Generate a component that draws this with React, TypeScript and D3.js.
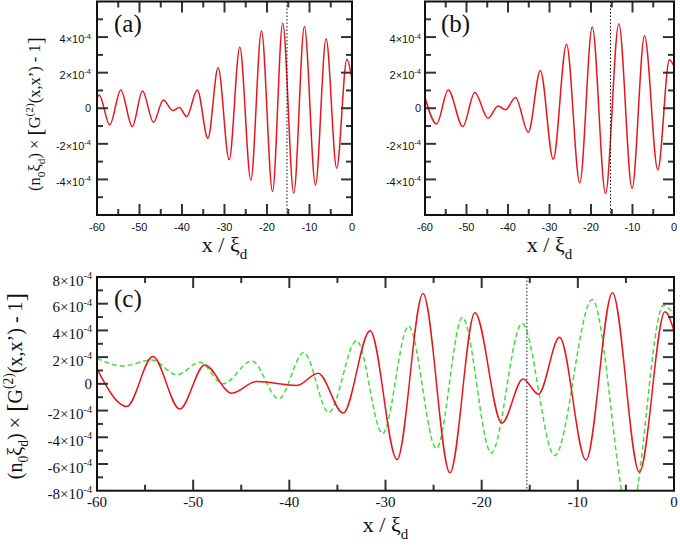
import { useEffect, useRef } from 'react'
import * as d3 from 'd3'

const aX = [-60, -59.5, -57, -54.4, -51.7, -49.3, -46.7, -44.4, -42.2, -40.6, -38.9, -36.4, -33.9, -31.5, -28.9, -26.4, -23.8, -21.3, -18.7, -16.3, -13.7, -11.2, -8.6, -6.1, -3.6, -1.2, 0]
const aY = [0.56, 0.75, -0.94, 1.03, -1.03, 0.97, -0.79, 0.47, -0.13, 0.04, -0.47, 1.03, -1.69, 2.28, -2.9, 3.43, -4.03, 4.36, -4.68, 4.78, -4.78, 4.59, -4.31, 3.9, -3.37, 2.75, 1.59]

const bX = [-60, -57.2, -54.4, -50.9, -48.0, -44.8, -42.4, -40.6, -38.2, -35.1, -32.2, -29.1, -25.9, -22.7, -19.7, -16.5, -13.3, -10.1, -7.1, -3.9, -1.1, 0]
const bY = [0.6, -0.88, 1.03, -1.03, 0.88, -0.56, 0.13, -0.09, 0.6, -1.35, 2.12, -2.87, 3.6, -4.19, 4.56, -4.79, 4.75, -4.5, 4.07, -3.47, 2.72, 2.35]

const cRedX = [-60, -56.9, -54.2, -51.4, -48.8, -46.0, -43.4, -39.2, -37.0, -34.4, -31.6, -28.8, -26.1, -23.3, -20.7, -17.9, -15.7, -14.1, -11.9, -9.15, -6.4, -3.6, -0.94, 0]
const cRedY = [1.12, -1.69, 2.04, -1.89, 1.42, -0.7, 0.17, -0.12, 0.8, -2.19, 3.98, -5.66, 6.76, -6.66, 5.32, -2.93, 0.37, -0.77, 3.48, -5.71, 6.83, -6.61, 5.39, 3.98]

const cGreenX = [-60, -57.3, -54.3, -51.7, -49.3, -46.9, -43.9, -41.1, -38.5, -35.9, -33.0, -30.3, -27.6, -24.7, -22.0, -19.0, -15.8, -12.4, -8.5, -4.6, -1.1, 0]
const cGreenY = [1.91, 1.34, 1.79, 0.67, 1.61, 0.0, 1.71, -1.12, 2.34, -2.14, 3.23, -3.73, 4.32, -4.84, 4.97, -5.17, 4.52, -5.37, 6.31, -10, 5.89, 5.14]

const xTickLabels = [-60, -50, -40, -30, -20, -10, 0]
const yTickLabelsAB = [-4, -2, 0, 2, 4]
const yTickLabelsC = [-8, -6, -4, -2, 0, 2, 4, 6, 8]
const markerX = -15.3

const SERIF = "'Liberation Serif', 'Times New Roman', Times, serif"
const SANS = "'Liberation Sans', Arial, Helvetica, sans-serif"
const RED = '#e8161c'
const GREEN = '#3fe03a'

type Seg = [string, 'n' | 'sub' | 'sup' | 'big']

// text with sub/superscripts as tspans
function rich(text: any, segs: Seg[], size: number) {
  let cur = 0
  segs.forEach(([t, k]) => {
    const fs = k === 'n' ? size : k === 'big' ? size * 1.3 : size * 0.68
    const off = k === 'sub' ? size * 0.3 : k === 'sup' ? -size * 0.45 : k === 'big' ? size * 0.1 : 0
    text.append('tspan').attr('font-size', fs).attr('dy', off - cur).text(t)
    cur = off
  })
}

interface Panel {
  id: string
  left: number
  right: number
  top: number
  bottom: number
  ymax: number
  series: { xs: number[]; ys: number[]; color: string; dash?: string }[]
  yLabels: number[]
  tickFont: string
  tickSize: number
  labelGap: number
  xLabelDrop: number
  tag: string
  tagPos: [number, number]
  titleSize: number
  titleBaseline: number
  yTitlePos: [number, number]
  yTitleSize: number
}

function drawPanel(svg: any, p: Panel) {
  const x = d3.scaleLinear().domain([-60, 0]).range([p.left, p.right])
  const y = d3.scaleLinear().domain([-p.ymax, p.ymax]).range([p.bottom, p.top])

  svg.append('clipPath').attr('id', 'clip-' + p.id)
    .append('rect')
    .attr('x', p.left).attr('y', p.top)
    .attr('width', p.right - p.left).attr('height', p.bottom - p.top)

  const line = d3.line<[number, number]>()
    .x(d => x(d[0]))
    .y(d => y(d[1]))
    .curve(d3.curveMonotoneX)

  p.series.forEach(s => {
    svg.append('path')
      .datum(s.xs.map((v, i) => [v, s.ys[i]] as [number, number]))
      .attr('clip-path', `url(#clip-${p.id})`)
      .attr('fill', 'none')
      .attr('stroke', s.color)
      .attr('stroke-width', 1.5)
      .attr('stroke-dasharray', s.dash ?? null)
      .attr('d', line)
  })

  // dotted marker
  svg.append('line')
    .attr('x1', x(markerX)).attr('x2', x(markerX))
    .attr('y1', p.top).attr('y2', p.bottom)
    .attr('stroke', '#111').attr('stroke-width', 1)
    .attr('stroke-dasharray', '1.5,2')

  // inward ticks on all four sides
  const ticks = svg.append('g').attr('stroke', '#333').attr('stroke-width', 2)
  d3.range(-55, 0, 5).forEach(v => {
    const len = v % 10 === 0 ? 11 : 6
    ticks.append('line').attr('x1', x(v)).attr('x2', x(v)).attr('y1', p.bottom).attr('y2', p.bottom - len)
    ticks.append('line').attr('x1', x(v)).attr('x2', x(v)).attr('y1', p.top).attr('y2', p.top + len)
  })
  d3.range(-p.ymax + 1, p.ymax, 1).forEach(v => {
    const len = v % 2 === 0 ? 11 : 6
    ticks.append('line').attr('y1', y(v)).attr('y2', y(v)).attr('x1', p.left).attr('x2', p.left + len)
    ticks.append('line').attr('y1', y(v)).attr('y2', y(v)).attr('x1', p.right).attr('x2', p.right - len)
  })

  svg.append('rect')
    .attr('x', p.left).attr('y', p.top)
    .attr('width', p.right - p.left).attr('height', p.bottom - p.top)
    .attr('fill', 'none').attr('stroke', '#111').attr('stroke-width', 2)

  // tick labels
  xTickLabels.forEach(v => {
    svg.append('text')
      .attr('x', x(v)).attr('y', p.bottom + p.xLabelDrop)
      .attr('text-anchor', 'middle')
      .style('font-family', p.tickFont).attr('font-size', p.tickSize)
      .attr('fill', '#111')
      .text(v)
  })
  p.yLabels.forEach(v => {
    const t = svg.append('text')
      .attr('x', p.left - p.labelGap)
      .attr('y', y(v) + p.tickSize * (v === 0 ? 0.36 : 0.58))
      .attr('text-anchor', 'end')
      .style('font-family', p.tickFont)
      .attr('fill', '#111')
    if (v === 0) rich(t, [['0', 'n']], p.tickSize)
    else rich(t, [[`${v}×10`, 'n'], ['-4', 'sup']], p.tickSize)
  })

  // panel tag
  svg.append('text')
    .attr('x', p.tagPos[0]).attr('y', p.tagPos[1])
    .style('font-family', SERIF).attr('font-size', 25).attr('fill', '#111')
    .text(p.tag)

  // x title
  const xt = svg.append('text')
    .attr('x', (p.left + p.right) / 2).attr('y', p.titleBaseline)
    .attr('text-anchor', 'middle')
    .style('font-family', SERIF).attr('fill', '#111')
  rich(xt, [['x / ξ', 'n'], ['d', 'sub']], p.titleSize)

  // y title
  if (p.yTitleSize > 0) {
    const yt = svg.append('text')
      .attr('transform', `translate(${p.yTitlePos[0]},${p.yTitlePos[1]}) rotate(-90)`)
      .attr('text-anchor', 'middle')
      .style('font-family', SERIF).attr('fill', '#111')
    rich(yt, [
      ['(n', 'n'], ['0', 'sub'], ['ξ', 'n'], ['d', 'sub'], [') × ', 'n'],
      ['[', 'big'], ['G', 'n'], ['(2)', 'sup'], ['(x,x’) - 1', 'n'], [']', 'big'],
    ], p.yTitleSize)
  }
}

export default function CorrelationFigure() {
  const svgRef = useRef<SVGSVGElement>(null)

  useEffect(() => {
    if (!svgRef.current) return
    const svg = d3.select(svgRef.current)
    svg.selectAll('*').remove()

    drawPanel(svg, {
      id: 'a', left: 97, right: 352, top: 1.5, bottom: 215, ymax: 6,
      series: [{ xs: aX, ys: aY, color: RED }],
      yLabels: yTickLabelsAB, tickFont: SANS, tickSize: 11, labelGap: 6, xLabelDrop: 16,
      tag: '(a)', tagPos: [114, 32], titleSize: 22, titleBaseline: 252,
      yTitlePos: [40, 114], yTitleSize: 16.5,
    })
    drawPanel(svg, {
      id: 'b', left: 425, right: 674, top: 1.5, bottom: 215, ymax: 6,
      series: [{ xs: bX, ys: bY, color: RED }],
      yLabels: yTickLabelsAB, tickFont: SANS, tickSize: 11, labelGap: 4, xLabelDrop: 16,
      tag: '(b)', tagPos: [441, 32], titleSize: 22, titleBaseline: 252,
      yTitlePos: [0, 0], yTitleSize: 0,
    })
    drawPanel(svg, {
      id: 'c', left: 97, right: 674, top: 277, bottom: 490.7, ymax: 8,
      series: [
        { xs: cGreenX, ys: cGreenY, color: GREEN, dash: '5,3' },
        { xs: cRedX, ys: cRedY, color: RED },
      ],
      yLabels: yTickLabelsC, tickFont: SERIF, tickSize: 15, labelGap: 5, xLabelDrop: 16.5,
      tag: '(c)', tagPos: [114, 307], titleSize: 22, titleBaseline: 532,
      yTitlePos: [21.5, 386], yTitleSize: 20,
    })
  }, [])

  return (
    <svg
      ref={svgRef}
      width={680}
      height={547}
      style={{ position: 'absolute', left: 0, top: 0, background: '#fff' }}
    />
  )
}
